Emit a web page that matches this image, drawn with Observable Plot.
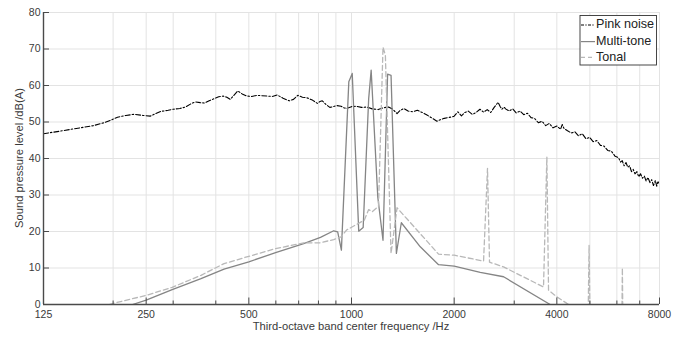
<!DOCTYPE html>
<html><head><meta charset="utf-8">
<script src="https://cdn.jsdelivr.net/npm/d3@7"></script>
<script src="https://cdn.jsdelivr.net/npm/@observablehq/plot@0.6"></script>
<style>body{margin:0;background:#fff;}</style>
</head><body><div id="chart"></div>
<script>
// ---- data ----
const pinkFreq = [125,140,160,175,188,198,206,218,230,245,257,268,276,290,300,314,326,337,348,360,371,384,396,408,420,431,441,452,464,478,494,510,528,546,566,586,606,630,657,676,696,718,742,768,794,808,821,842,864,884,905,932,950,968,1000,1035,1070,1108,1150,1198,1240,1284,1320,1360,1390,1425,1465,1511,1560,1621,1660,1700,1740,1780,1820,1870,1920,1970,
  2000,2050,2100,2150,2200,2260,2320,2380,2440,2500,2560,2620,2690,2730,2760,2800,2830,2900,2970,3040,3120,3200,3280,3360,3440,3530,3620,3710,3800,3900,4000,4100,4150,4200,4300,4410,4520,4630,4750,4870,4990,5110,5240,5370,5500,5640,5780,5930,6070,6150,6220,6300,6380,6460,6540,6620,6700,6780,6870,6950,7040,7130,7220,7310,7400,7500,7590,7680,7780,7850,7920,8000];
const pinkLevel = [46.8,47.5,48.4,49.0,49.8,50.6,51.3,51.8,52.1,51.8,51.6,52.4,52.9,53.2,53.5,53.7,54.1,54.9,55.5,55.3,55.2,55.9,56.4,56.9,57.1,56.8,56.2,57.3,58.5,57.7,57.1,57.0,57.3,57.2,57.1,57.0,57.4,56.5,55.8,56.2,57.3,56.8,56.6,56.0,55.1,55.6,55.8,54.8,54.0,54.2,54.5,54.3,53.9,53.7,54.2,54.3,54.0,54.1,53.6,53.4,53.9,54.1,53.5,52.3,53.2,53.7,53.0,52.8,53.2,52.5,52.0,51.4,50.8,50.2,50.6,51.0,51.2,51.4,
  51.6,52.8,51.7,52.6,53.0,52.1,52.6,53.5,52.7,53.4,52.6,54.0,55.4,54.2,53.5,54.1,53.6,53.0,53.6,52.5,53.0,52.0,52.4,51.2,51.0,49.8,50.2,49.0,49.6,48.4,48.9,48.0,49.3,48.2,47.6,47.0,47.3,46.2,46.8,45.4,45.8,44.6,44.9,43.6,43.4,42.2,42.0,40.6,40.2,39.0,39.4,38.0,38.9,37.6,38.0,36.4,37.0,35.8,36.4,35.0,35.8,34.6,35.2,33.8,34.8,33.4,34.2,32.6,34.0,32.4,33.8,33.0];

const multiFreq  = [200,228,250,298,362,423,500,599,724,811,887,911,934,982,1005,1050,1082,1123,1142,1194,1237,1276,1306,1354,1400,1591,1800,2000,2385,2792,3823,4100];
const multiLevel = [-3,0,1.2,4.1,7.1,9.7,11.7,14.2,16.7,18.4,20.2,19.9,14.9,61.0,63.3,20.1,21.1,56.4,64.2,29.5,17.6,63.1,62.8,14.0,22.4,15.8,10.9,10.5,8.8,7.6,0,-1.5];

const tonalFreq  = [185,200,250,298,362,423,500,599,724,811,887,932,967,1090,1123,1150,1200,1237,1257,1306,1360,1800,2000,2439,2505,2539,2792,3656,3740,3782,4000,4280,4600,4940,4973,5005,5600,6200,6226,6252,8000];
const tonalLevel = [-0.6,0.3,2.5,4.7,8.0,11.2,13.2,15.3,16.9,16.9,17.8,18.5,20.4,23.1,26.0,25.4,26.9,70.5,68.3,14.0,26.5,13.8,13.5,11.9,37.3,11.6,10.3,4.8,40.4,3.9,2.1,0.3,-1.5,-4,16.2,-4,-6,-8,10.0,-8,-12];

const xMajorTicks = [125,250,500,1000,2000,4000,8000];
const xMinorTicks = [200,300,400,600,700,800,900,3000,5000,6000,7000];
const yTicks = [0,10,20,30,40,50,60,70,80];
const seriesNames = ["Pink noise","Multi-tone","Tonal"];

// ---- tables ----
const pink  = pinkFreq.map((f,i)=>({f, v: pinkLevel[i]}));
const multi = multiFreq.map((f,i)=>({f, v: multiLevel[i]}));
const tonal = tonalFreq.map((f,i)=>({f, v: tonalLevel[i]}));

const W = 680, H = 337, mL = 43, mR = 21, mT = 12, mB = 33;
const xDomain = [125, 8000];
const pxPerUnitY = (H - mT - mB) / 80;
const pxPerOct = (W - mL - mR) / Math.log2(xDomain[1]/xDomain[0]);
const majorLen = 6.5 / pxPerUnitY, minorLen = 3.5 / pxPerUnitY;
const yTickEnd = 125 * Math.pow(2, 6 / pxPerOct);

const gridColor = "#e3e3e3";
const axisColor = "#4a4a4a";
const textColor = "#3a3a3a";

const chart = Plot.plot({
  width: W, height: H,
  marginLeft: mL, marginRight: mR, marginTop: mT, marginBottom: mB,
  x: {type: "log", domain: xDomain, axis: null},
  y: {domain: [0, 80]},
  style: {fontFamily: "'Liberation Sans', Arial, sans-serif", color: textColor, background: "white"},
  marks: [
    Plot.gridX(xMajorTicks.concat(xMinorTicks), {stroke: gridColor, strokeOpacity: 1}),
    Plot.gridY(yTicks, {stroke: gridColor, strokeOpacity: 1}),
    Plot.line(pink, {x: "f", y: "v", stroke: "#000", strokeWidth: 1.1, strokeDasharray: "5,2,1.5,2", clip: true}),
    Plot.line(multi, {x: "f", y: "v", stroke: "#858585", strokeWidth: 1.3, clip: true}),
    Plot.line(tonal, {x: "f", y: "v", stroke: "#b8b8b8", strokeWidth: 1.3, strokeDasharray: "5,3", clip: true}),
    Plot.ruleX(xMajorTicks, {y1: 0, y2: majorLen, stroke: axisColor, strokeWidth: 1}),
    Plot.ruleX(xMinorTicks, {y1: 0, y2: minorLen, stroke: axisColor, strokeWidth: 1}),
    Plot.ruleY(yTicks, {x1: 125, x2: yTickEnd, stroke: axisColor, strokeWidth: 1}),
    Plot.ruleX([125], {stroke: axisColor, strokeWidth: 1.4}),
    Plot.ruleY([0], {stroke: axisColor, strokeWidth: 1.4}),
    Plot.text(xMajorTicks, {x: d => d, y: 0, text: d => String(d), dy: 10.5, fontSize: 10.5, fill: textColor, textAnchor: "middle"}),
    Plot.axisY({ticks: yTicks, tickSize: 0, tickPadding: 3, label: null, fontSize: 10.5})
  ]
});

document.getElementById("chart").appendChild(chart);

const svg = d3.select(chart);
// axis labels
svg.append("text")
  .attr("x", (mL + W - mR) / 2).attr("y", 327.5)
  .attr("text-anchor", "middle").attr("dominant-baseline", "middle")
  .attr("font-size", 11.2).attr("fill", textColor)
  .text("Third-octave band center frequency /Hz");
svg.append("text")
  .attr("transform", `translate(20.5,${(mT + H - mB) / 2}) rotate(-90)`)
  .attr("text-anchor", "middle").attr("dominant-baseline", "middle")
  .attr("font-size", 11.2).attr("fill", textColor)
  .text("Sound pressure level /dB(A)");

// legend
const lg = svg.append("g");
lg.append("rect").attr("x", 580).attr("y", 15.5).attr("width", 76.5).attr("height", 49.5)
  .attr("fill", "white").attr("stroke", "#333").attr("stroke-width", 0.9);
const legendStyles = [
  {stroke: "#000", dash: "3,1.4,1.2,1.4", w: 1},
  {stroke: "#858585", dash: null, w: 1.2},
  {stroke: "#b8b8b8", dash: "4,3", w: 1.2}
];
const rowsY = [25, 41.6, 57.4];
seriesNames.forEach((name, i) => {
  const s = legendStyles[i];
  const ln = lg.append("line").attr("x1", 581).attr("x2", 595).attr("y1", rowsY[i]).attr("y2", rowsY[i])
    .attr("stroke", s.stroke).attr("stroke-width", s.w);
  if (s.dash) ln.attr("stroke-dasharray", s.dash);
  lg.append("text").attr("x", 596).attr("y", rowsY[i]).attr("dominant-baseline", "middle")
    .attr("text-anchor", "start")
    .attr("font-size", 12.6).attr("fill", "#222").text(name);
});
</script>
</body></html>
